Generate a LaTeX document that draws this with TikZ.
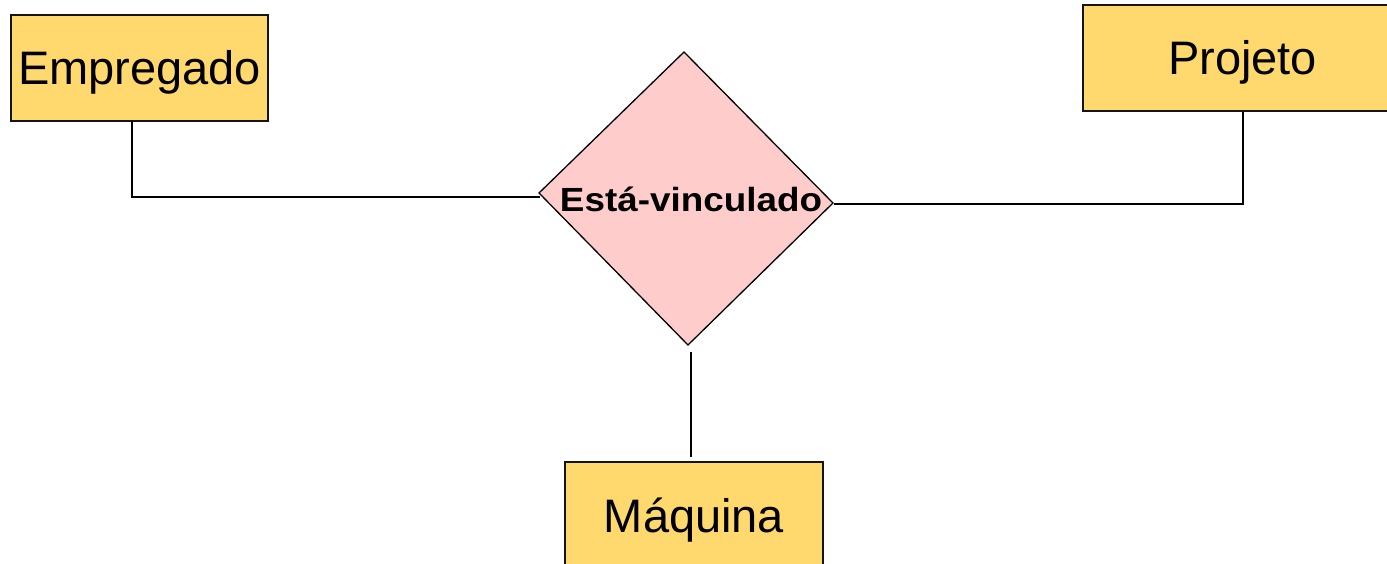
\documentclass[tikz,border=0pt]{standalone}
\usepackage{fontspec}
\setmainfont{Liberation Sans}
\definecolor{entfill}{RGB}{255,217,110}
\definecolor{relfill}{RGB}{255,204,204}
\definecolor{edge}{RGB}{20,20,20}
\begin{document}
\begin{tikzpicture}[x=1pt,y=-1pt,
  entity/.style={draw=edge,line width=1.6pt,fill=entfill,inner sep=0pt,
    text height=34pt,text depth=0pt,
    minimum width=#1,minimum height=106pt,font=\fontsize{47}{50}\selectfont},
  entity/.default=257pt,
  link/.style={draw=black,line width=2pt},
  relshape/.style={draw=black,line width=1.3pt,fill=relfill,line join=miter},
  reltext/.style={inner sep=0pt,text height=24pt,text depth=0pt,
    font=\bfseries\fontsize{33.5}{36}\selectfont}]
\useasboundingbox (0,0) rectangle (1387,564);
\clip (0,0) rectangle (1387,564);
% entities
\node[entity=257pt] (emp) at (139.5,68) {Empregado};
\node[entity=319pt] (proj) at (1242.5,58) {Projeto};
\node[entity=258pt] (maq) at (694,515) {Máquina};
% relationship diamond
\coordinate (dT) at (684,52);
\coordinate (dR) at (833,203);
\coordinate (dB) at (688,345);
\coordinate (dL) at (539,193);
\path[relshape] (dT) -- (dR) -- (dB) -- (dL) -- cycle;
\node[reltext] (rel) at (691,200) {\scalebox{1.1}[1]{Está-vinculado}};
% connector end points
\coordinate (eJ) at (132,121);
\coordinate (cL) at (540,197.5);
\coordinate (cR) at (834,204);
\coordinate (mT) at (691,352);
\coordinate (mB) at (691,457);
% connectors
\draw[link] (eJ) |- (cL);
\draw[link] (proj.south) |- (cR);
\draw[link] (mT) -- (mB);
\end{tikzpicture}
\end{document}
